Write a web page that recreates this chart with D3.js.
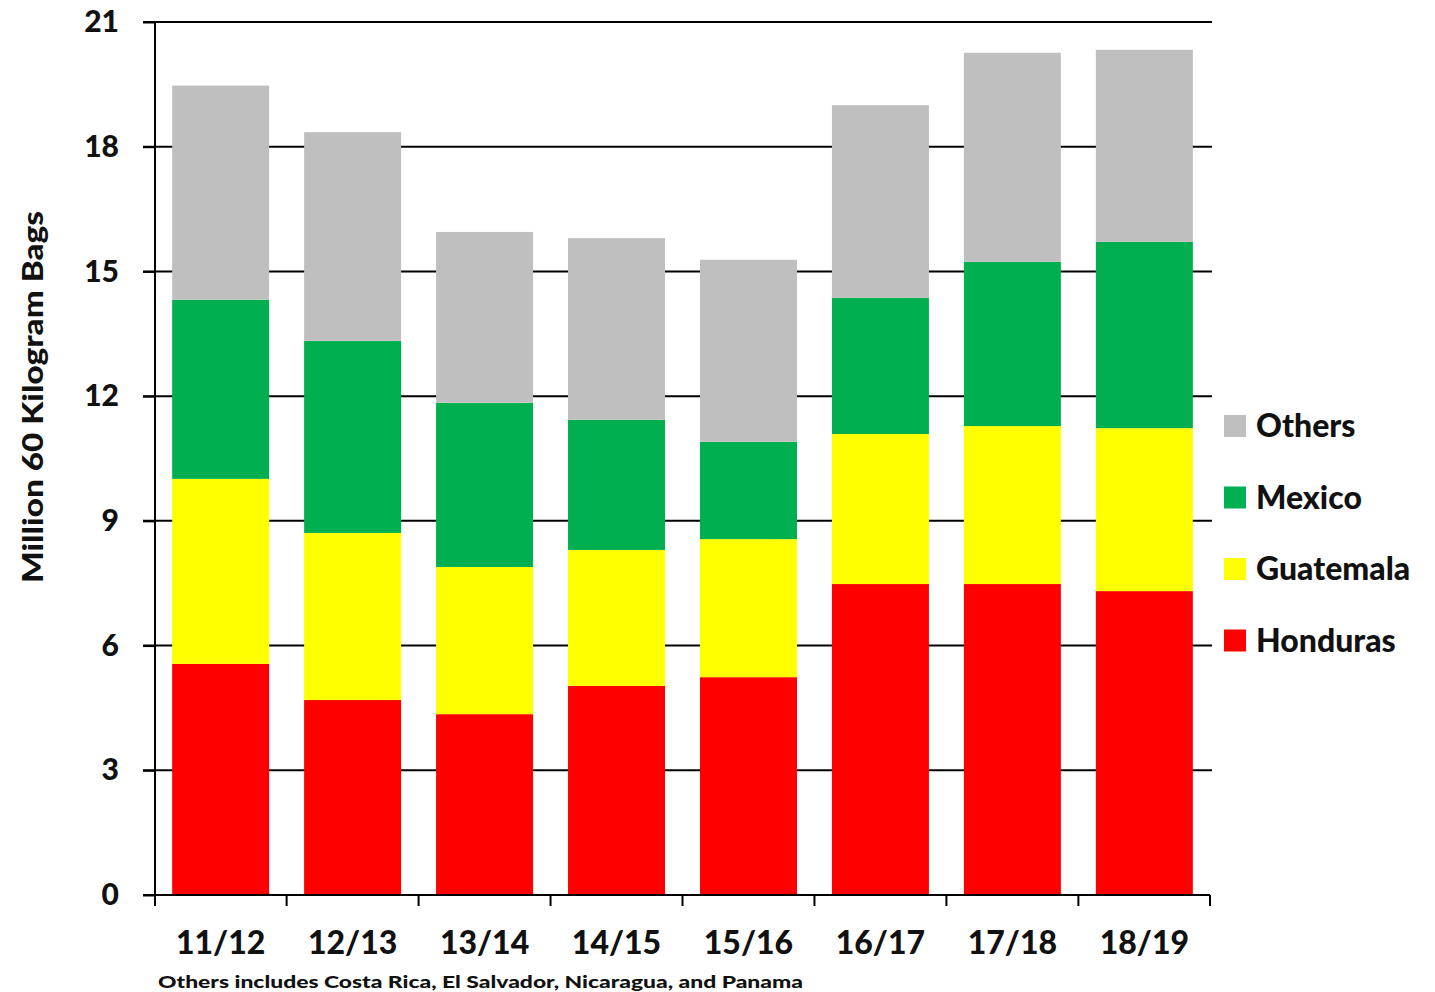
<!DOCTYPE html>
<html>
<head>
<meta charset="utf-8">
<script src="https://cdn.jsdelivr.net/npm/d3@7"></script>
<style>
  html, body { margin: 0; padding: 0; background: #fff; }
  svg { display: block; font-family: Lato, "Open Sans", sans-serif; font-weight: 900; }
</style>
</head>
<body>
<div id="chart"></div>
<script>
/* ── Central America coffee production, stacked by country ── */

const years      = ['11/12', '12/13', '13/14', '14/15', '15/16', '16/17', '17/18', '18/19'];
const honduras   = [5.56, 4.69, 4.35, 5.03, 5.24, 7.48, 7.48, 7.31];
const guatemala  = [4.45, 4.02, 3.54, 3.27, 3.32, 3.61, 3.80, 3.92];
const mexico     = [4.31, 4.62, 3.95, 3.13, 2.34, 3.27, 3.95, 4.48];
const others     = [5.15, 5.02, 4.11, 4.37, 4.38, 4.64, 5.03, 4.62];
const seriesKeys = ['Honduras', 'Guatemala', 'Mexico', 'Others'];
const yTicks     = [0, 3, 6, 9, 12, 15, 18, 21];

const colors = {
  Honduras:  '#ff0000',
  Guatemala: '#ffff00',
  Mexico:    '#00b050',
  Others:    '#bfbfbf'
};

// Build rows for d3.stack
const table = years.map((y, i) => ({
  year: y,
  Honduras: honduras[i],
  Guatemala: guatemala[i],
  Mexico: mexico[i],
  Others: others[i]
}));

const width = 1435, height = 992;
const margin = { left: 155, right: 225, top: 22, bottom: 97 };
const plotW = width - margin.left - margin.right;
const plotH = height - margin.top - margin.bottom;

const svg = d3.select('#chart').append('svg')
  .attr('width', width)
  .attr('height', height);

const g = svg.append('g').attr('transform', `translate(${margin.left},${margin.top})`);

const x = d3.scaleBand().domain(years).range([0, plotW]).paddingInner(0.265).paddingOuter(0.13);
const y = d3.scaleLinear().domain([0, 21]).range([plotH, 0]);

// Gridlines (with tick stubs to the left of the axis)
g.append('g')
  .selectAll('line')
  .data(yTicks.filter(d => d > 0))
  .join('line')
  .attr('x1', -12)
  .attr('x2', plotW + 2)
  .attr('y1', d => y(d))
  .attr('y2', d => y(d))
  .attr('stroke', '#000')
  .attr('stroke-width', 2);

// Stacked bars
const stacked = d3.stack().keys(seriesKeys)(table);

g.selectAll('.layer')
  .data(stacked)
  .join('g')
  .attr('class', 'layer')
  .attr('fill', d => colors[d.key])
  .selectAll('rect')
  .data(d => d)
  .join('rect')
  .attr('x', d => x(d.data.year))
  .attr('y', d => y(d[1]))
  .attr('width', x.bandwidth())
  .attr('height', d => y(d[0]) - y(d[1]));

// Y axis
const yAxis = g.append('g')
  .call(d3.axisLeft(y).tickValues(yTicks).tickSize(12).tickPadding(24));
yAxis.select('.domain').attr('stroke', '#000').attr('stroke-width', 2).attr('d', `M0,${plotH}V0`);
yAxis.selectAll('.tick line').attr('stroke-width', 2);
yAxis.selectAll('.tick text')
  .attr('font-size', 30)
  .attr('font-weight', 900)
  .attr('font-family', 'Lato, sans-serif')
  .attr('fill', '#111');

// X axis: ticks at category boundaries
const boundaries = years.map(yr => x(yr) - x.step() * x.paddingInner() / 2);
boundaries[0] = 0;
boundaries.push(plotW);

const xAxisG = g.append('g').attr('transform', `translate(0,${plotH})`);
xAxisG.append('line')
  .attr('x1', -12).attr('x2', plotW)
  .attr('stroke', '#000').attr('stroke-width', 2);
xAxisG.selectAll('.xtick')
  .data(boundaries)
  .join('line')
  .attr('class', 'xtick')
  .attr('x1', d => d).attr('x2', d => d)
  .attr('y1', 0).attr('y2', 11)
  .attr('stroke', '#000').attr('stroke-width', 2);
xAxisG.selectAll('.xlabel')
  .data(years)
  .join('text')
  .attr('class', 'xlabel')
  .attr('x', d => x(d) + x.bandwidth() / 2)
  .attr('y', 59)
  .attr('text-anchor', 'middle')
  .attr('font-size', 32)
  .attr('fill', '#111')
  .text(d => d);

// Y axis title
svg.append('text')
  .attr('transform', 'translate(43,397) rotate(-90)')
  .attr('text-anchor', 'middle')
  .attr('font-size', 29)
  .attr('fill', '#111')
  .attr('textLength', 372)
  .attr('lengthAdjust', 'spacingAndGlyphs')
  .text('Million 60 Kilogram Bags');

// Footnote
svg.append('text')
  .attr('x', 158)
  .attr('y', 988)
  .attr('font-size', 17)
  .attr('fill', '#111')
  .attr('textLength', 645)
  .attr('lengthAdjust', 'spacingAndGlyphs')
  .text('Others includes Costa Rica, El Salvador, Nicaragua, and Panama');

// Legend
const legendKeys = ['Others', 'Mexico', 'Guatemala', 'Honduras'];
const legend = svg.append('g').attr('transform', 'translate(1224,426)');
const items = legend.selectAll('g')
  .data(legendKeys)
  .join('g')
  .attr('transform', (d, i) => `translate(0,${i * 71.5})`);
items.append('rect')
  .attr('x', 0).attr('y', -11)
  .attr('width', 22).attr('height', 22)
  .attr('fill', d => colors[d]);
items.append('text')
  .attr('x', 32)
  .attr('y', 11)
  .attr('font-size', 32)
  .attr('fill', '#111')
  .text(d => d);
</script>
</body>
</html>
